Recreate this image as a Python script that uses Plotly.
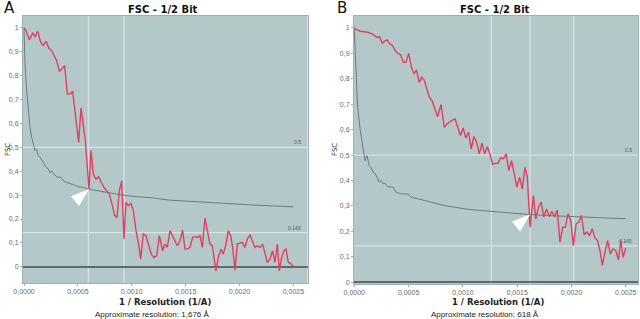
import plotly.graph_objects as go

# ---------------- Panel A data ----------------
a_fsc_x = [0.0000000, 0.0000186, 0.0000495, 0.0000804, 0.0001021, 0.0001268, 0.0001547, 0.0001794,
           0.0002041, 0.0002320, 0.0002567, 0.0002815, 0.0003031, 0.0003279, 0.0003526, 0.0003774,
           0.0004021, 0.0004268, 0.0004516, 0.0004794, 0.0005073, 0.0005289, 0.0005506, 0.0005691,
           0.0005877, 0.0006032, 0.0006217, 0.0006434, 0.0006681, 0.0006929, 0.0007176, 0.0007423,
           0.0007671, 0.0007918, 0.0008166, 0.0008413, 0.0008630, 0.0008846, 0.0009063, 0.0009279,
           0.0009465, 0.0009681, 0.0009929, 0.0010145, 0.0010393, 0.0010640, 0.0010826, 0.0011073,
           0.0011321, 0.0011568, 0.0011816, 0.0012063, 0.0012311, 0.0012558, 0.0012867, 0.0013084,
           0.0013300, 0.0013548, 0.0013795, 0.0014012, 0.0014228, 0.0014476, 0.0014723, 0.0014940,
           0.0015156, 0.0015404, 0.0015651, 0.0015899, 0.0016115, 0.0016332, 0.0016548, 0.0016796,
           0.0017012, 0.0017260, 0.0017476, 0.0017662, 0.0017816, 0.0018033, 0.0018280, 0.0018497,
           0.0018744, 0.0018961, 0.0019177, 0.0019363, 0.0019579, 0.0019796, 0.0020043, 0.0020260,
           0.0020507, 0.0020724, 0.0020971, 0.0021188, 0.0021435, 0.0021652, 0.0021899, 0.0022147,
           0.0022363, 0.0022580, 0.0022827, 0.0023075, 0.0023291, 0.0023508, 0.0023693, 0.0023910,
           0.0024126, 0.0024312, 0.0024528, 0.0024745, 0.0024930, 0.0025085]
a_fsc_y = [1.000, 0.989, 0.950, 0.978, 0.964, 0.986, 0.940, 0.926,
           0.944, 0.915, 0.905, 0.884, 0.863, 0.818, 0.828, 0.842,
           0.723, 0.723, 0.735, 0.640, 0.521, 0.665, 0.598, 0.528,
           0.416, 0.325, 0.486, 0.388, 0.367, 0.377, 0.353, 0.332,
           0.318, 0.304, 0.263, 0.214, 0.207, 0.318, 0.360, 0.116,
           0.270, 0.256, 0.265, 0.235, 0.151, 0.095, 0.032, 0.137,
           0.130, 0.095, 0.053, 0.039, 0.046, 0.130, 0.067, 0.095,
           0.081, 0.151, 0.130, 0.109, 0.088, 0.109, 0.154, 0.074,
           0.074, 0.081, 0.123, 0.126, 0.123, 0.130, 0.081, 0.204,
           0.151, 0.095, 0.088, 0.039, -0.017, 0.039, 0.074, 0.053,
           0.095, 0.151, 0.130, 0.081, -0.014, 0.095, 0.098, 0.102,
           0.081, 0.116, 0.134, 0.109, 0.081, 0.088, 0.081, 0.095,
           0.060, 0.018, 0.032, 0.067, 0.018, 0.095, -0.017, 0.039,
           0.067, 0.074, 0.018, 0.014, 0.004, -0.003]

a_bit_x = [0.0000000, 0.0000093, 0.0000247, 0.0000402, 0.0000557, 0.0000711, 0.0000866, 0.0001021,
           0.0001175, 0.0001330, 0.0001485, 0.0001639, 0.0001794, 0.0001949, 0.0002103, 0.0002258,
           0.0002413, 0.0002567, 0.0002722, 0.0002877, 0.0003031, 0.0003186, 0.0003341, 0.0003495,
           0.0003650, 0.0003959, 0.0004268, 0.0004578, 0.0005042, 0.0005506, 0.0005970, 0.0006434,
           0.0007052, 0.0007671, 0.0008290, 0.0008908, 0.0009836, 0.0010764, 0.0012001, 0.0013486,
           0.0015713, 0.0018806, 0.0021899, 0.0024992]
a_bit_y = [1.000, 0.849, 0.737, 0.640, 0.584, 0.542, 0.507, 0.486,
           0.493, 0.465, 0.458, 0.444, 0.437, 0.423, 0.416, 0.409,
           0.395, 0.402, 0.388, 0.385, 0.377, 0.374, 0.377, 0.367,
           0.360, 0.353, 0.349, 0.344, 0.335, 0.332, 0.325, 0.321,
           0.316, 0.311, 0.307, 0.302, 0.296, 0.293, 0.288, 0.279,
           0.274, 0.265, 0.257, 0.251]

a_vlines = [0.000597, 0.000928]          # resolution markers (1/A)
a_cross = (0.000603, 0.325)              # half-bit crossing point
a_resolution_text = "Approximate resolution: 1,676 Å"

# ---------------- Panel B data ----------------
b_fsc_x = [0.0000000, 0.0000248, 0.0000557, 0.0000928, 0.0001238, 0.0001547, 0.0001856, 0.0002104,
           0.0002321, 0.0002568, 0.0002785, 0.0003032, 0.0003280, 0.0003527, 0.0003775, 0.0004022,
           0.0004270, 0.0004517, 0.0004765, 0.0005012, 0.0005260, 0.0005507, 0.0005724, 0.0005972,
           0.0006188, 0.0006436, 0.0006683, 0.0006931, 0.0007178, 0.0007426, 0.0007673, 0.0007983,
           0.0008292, 0.0008540, 0.0008818, 0.0009035, 0.0009282, 0.0009530, 0.0009777, 0.0010025,
           0.0010272, 0.0010520, 0.0010767, 0.0011015, 0.0011262, 0.0011510, 0.0011757, 0.0012005,
           0.0012252, 0.0012500, 0.0012748, 0.0012995, 0.0013243, 0.0013490, 0.0013738, 0.0013985,
           0.0014233, 0.0014480, 0.0014728, 0.0014975, 0.0015223, 0.0015470, 0.0015718, 0.0015934,
           0.0016182, 0.0016491, 0.0016708, 0.0016955, 0.0017203, 0.0017450, 0.0017698, 0.0017946,
           0.0018193, 0.0018441, 0.0018688, 0.0018936, 0.0019183, 0.0019431, 0.0019678, 0.0019926,
           0.0020173, 0.0020421, 0.0020668, 0.0020916, 0.0021163, 0.0021411, 0.0021658, 0.0021906,
           0.0022153, 0.0022401, 0.0022649, 0.0022834, 0.0023082, 0.0023329, 0.0023577, 0.0023824,
           0.0024072, 0.0024319, 0.0024536, 0.0024752, 0.0025000]
b_fsc_y = [1.000, 0.992, 0.987, 0.986, 0.983, 0.979, 0.970, 0.963,
           0.966, 0.940, 0.948, 0.953, 0.937, 0.931, 0.911, 0.900,
           0.895, 0.865, 0.865, 0.900, 0.845, 0.819, 0.835, 0.786,
           0.806, 0.796, 0.760, 0.727, 0.712, 0.678, 0.651, 0.699,
           0.609, 0.623, 0.633, 0.638, 0.642, 0.612, 0.577, 0.607,
           0.567, 0.590, 0.524, 0.573, 0.550, 0.505, 0.547, 0.505,
           0.533, 0.502, 0.463, 0.468, 0.468, 0.491, 0.485, 0.505,
           0.439, 0.478, 0.426, 0.374, 0.413, 0.367, 0.452, 0.413,
           0.216, 0.341, 0.249, 0.295, 0.315, 0.256, 0.288, 0.258,
           0.279, 0.258, 0.284, 0.157, 0.216, 0.216, 0.269, 0.242,
           0.144, 0.229, 0.236, 0.262, 0.187, 0.197, 0.183, 0.210,
           0.174, 0.164, 0.118, 0.066, 0.118, 0.164, 0.111, 0.131,
           0.125, 0.088, 0.164, 0.098, 0.135]

b_bit_x = [0.0000000, 0.0000155, 0.0000309, 0.0000557, 0.0000774, 0.0000990, 0.0001176, 0.0001361,
           0.0001547, 0.0001733, 0.0001918, 0.0002104, 0.0002290, 0.0002475, 0.0002661, 0.0002847,
           0.0003032, 0.0003249, 0.0003558, 0.0003868, 0.0004332, 0.0004950, 0.0005260, 0.0005879,
           0.0006498, 0.0007116, 0.0007735, 0.0008354, 0.0009282, 0.0010210, 0.0011139, 0.0012376,
           0.0013614, 0.0014851, 0.0016182, 0.0017946, 0.0019802, 0.0021658, 0.0023515, 0.0025000]
b_bit_y = [1.000, 0.858, 0.688, 0.596, 0.531, 0.478, 0.498, 0.459,
           0.450, 0.433, 0.426, 0.413, 0.393, 0.400, 0.387, 0.389,
           0.376, 0.374, 0.374, 0.354, 0.347, 0.347, 0.334, 0.328,
           0.321, 0.315, 0.308, 0.301, 0.295, 0.288, 0.284, 0.279,
           0.274, 0.270, 0.266, 0.262, 0.258, 0.256, 0.252, 0.250]

b_vlines = [0.001262, 0.001618, 0.00202]
b_cross = (0.001618, 0.266)
b_resolution_text = "Approximate resolution: 618 Å"

# ---------------- shared ----------------
thresholds = [0.5, 0.143]
threshold_labels = ["0.5", "0.143"]
x_tickvals = [0.0, 0.0005, 0.0010, 0.0015, 0.0020, 0.0025]
x_ticktext = ["0,0000", "0,0005", "0,0010", "0,0015", "0,0020", "0,0025"]
y_tickvals = [0, 0.1, 0.2, 0.3, 0.4, 0.5, 0.6, 0.7, 0.8, 0.9, 1.0]
y_ticktext = ["0", "0,1", "0,2", "0,3", "0,4", "0,5", "0,6", "0,7", "0,8", "0,9", "1"]
title_text = "FSC - 1/2 Bit"
x_title = "1 / Resolution (1/A)"
y_title = "FSC"
panel_letters = ["A", "B"]

W, H = 640, 319
RED = "#e0405f"
GRAY = "#6d7b7c"
BG = "#b4c8ca"
LIGHT = "#d6e4e4"
FRAME = "#9fb0b1"
TICKC = "#6b6b6b"


def px(v):
    return v / W


def py(v):
    return 1 - v / H


fig = go.Figure()
fig.add_trace(go.Scatter(x=a_bit_x, y=a_bit_y, mode="lines", line=dict(color=GRAY, width=1),
                         xaxis="x", yaxis="y", showlegend=False, hoverinfo="skip"))
fig.add_trace(go.Scatter(x=a_fsc_x, y=a_fsc_y, mode="lines", line=dict(color=RED, width=1.4),
                         xaxis="x", yaxis="y", showlegend=False))
fig.add_trace(go.Scatter(x=b_bit_x, y=b_bit_y, mode="lines", line=dict(color=GRAY, width=1),
                         xaxis="x2", yaxis="y2", showlegend=False, hoverinfo="skip"))
fig.add_trace(go.Scatter(x=b_fsc_x, y=b_fsc_y, mode="lines", line=dict(color=RED, width=1.4),
                         xaxis="x2", yaxis="y2", showlegend=False))

tickfont = dict(family="Liberation Sans", size=7, color=TICKC)
common_x = dict(tickvals=x_tickvals, ticktext=x_ticktext, tickfont=tickfont, showgrid=False,
                zeroline=False, showline=True, mirror=True, linecolor=FRAME, linewidth=1,
                ticks="outside", ticklen=2, tickcolor=FRAME, fixedrange=True, automargin=False)
common_y = dict(tickvals=y_tickvals, ticktext=y_ticktext, tickfont=tickfont, showgrid=False,
                zeroline=True, zerolinecolor="#5d6b6c", zerolinewidth=2,
                showline=True, mirror=True, linecolor=FRAME, linewidth=1,
                ticks="outside", ticklen=2, tickcolor=FRAME, fixedrange=True, automargin=False)

fig.update_layout(
    width=W, height=H, margin=dict(l=0, r=0, t=0, b=0, autoexpand=False),
    paper_bgcolor="white", plot_bgcolor=BG, showlegend=False,
    xaxis=dict(domain=[px(23), px(307.5)], range=[-0.0000093, 0.002631], anchor="y", **common_x),
    yaxis=dict(domain=[py(283), py(16)], range=[-0.068, 1.050], anchor="x", **common_y),
    xaxis2=dict(domain=[px(354), px(638.3)], range=[-0.0000025, 0.002615], anchor="y2", **common_x),
    yaxis2=dict(domain=[py(284), py(16)], range=[-0.007, 1.047], anchor="x2", **common_y),
)

shapes = []
annotations = []
panels = [("x", "y", a_vlines, a_cross), ("x2", "y2", b_vlines, b_cross)]
for xr, yr, vls, cross in panels:
    for t in thresholds:
        shapes.append(dict(type="line", xref=f"{xr} domain", yref=yr, x0=0, x1=1, y0=t, y1=t,
                           line=dict(color=LIGHT, width=1.2), layer="below"))
    for v in vls:
        shapes.append(dict(type="line", xref=xr, yref=f"{yr} domain", x0=v, x1=v, y0=0, y1=1,
                           line=dict(color=LIGHT, width=1.2), layer="below"))
    shapes.append(dict(type="path", xref=xr, yref=yr, xsizemode="pixel", ysizemode="pixel",
                       xanchor=cross[0], yanchor=cross[1],
                       path="M 0 0 L -18 -7 L -10 -17 Z",
                       fillcolor="white", line=dict(width=0), layer="above"))
    for t, lab in zip(thresholds, threshold_labels):
        annotations.append(dict(xref=f"{xr} domain", yref=yr, x=0.985, y=t, text=lab,
                                showarrow=False, xanchor="right", yanchor="bottom",
                                font=dict(family="Liberation Sans", size=5, color="#555")))

# titles and labels
title_font = dict(family="DejaVu Sans", size=10, color="#111")
for cx, letter, res_text, ytx, xtc, rc in [(163, panel_letters[0], a_resolution_text, 8, 165, 152),
                                          (495, panel_letters[1], b_resolution_text, 335, 498, 485)]:
    annotations.append(dict(xref="paper", yref="paper", x=px(cx), y=py(10), text=f"<b>{title_text}</b>",
                            showarrow=False, xanchor="center", yanchor="middle", font=title_font))
    annotations.append(dict(xref="paper", yref="paper", x=px(xtc), y=py(302), text=f"<b>{x_title}</b>",
                            showarrow=False, xanchor="center", yanchor="middle",
                            font=dict(family="DejaVu Sans", size=8.5, color="#222")))
    annotations.append(dict(xref="paper", yref="paper", x=px(rc), y=py(314.5), text=res_text,
                            showarrow=False, xanchor="center", yanchor="middle",
                            font=dict(family="Liberation Sans", size=8, color="#222")))
    annotations.append(dict(xref="paper", yref="paper", x=px(ytx), y=py(150), text=y_title,
                            showarrow=False, xanchor="center", yanchor="middle", textangle=-90,
                            font=dict(family="DejaVu Sans", size=7, color="#333")))

annotations.append(dict(xref="paper", yref="paper", x=px(9), y=py(8.5), text=panel_letters[0],
                        showarrow=False, xanchor="center", yanchor="middle",
                        font=dict(family="DejaVu Sans", size=15, color="#111")))
annotations.append(dict(xref="paper", yref="paper", x=px(342), y=py(8), text=panel_letters[1],
                        showarrow=False, xanchor="center", yanchor="middle",
                        font=dict(family="DejaVu Sans", size=15, color="#111")))

fig.update_layout(shapes=shapes, annotations=annotations)
fig.write_html("out.html", config={"displayModeBar": False},
               post_script="document.body.style.margin='0';document.body.style.padding='0';"
                           "document.body.style.overflow='hidden';")
